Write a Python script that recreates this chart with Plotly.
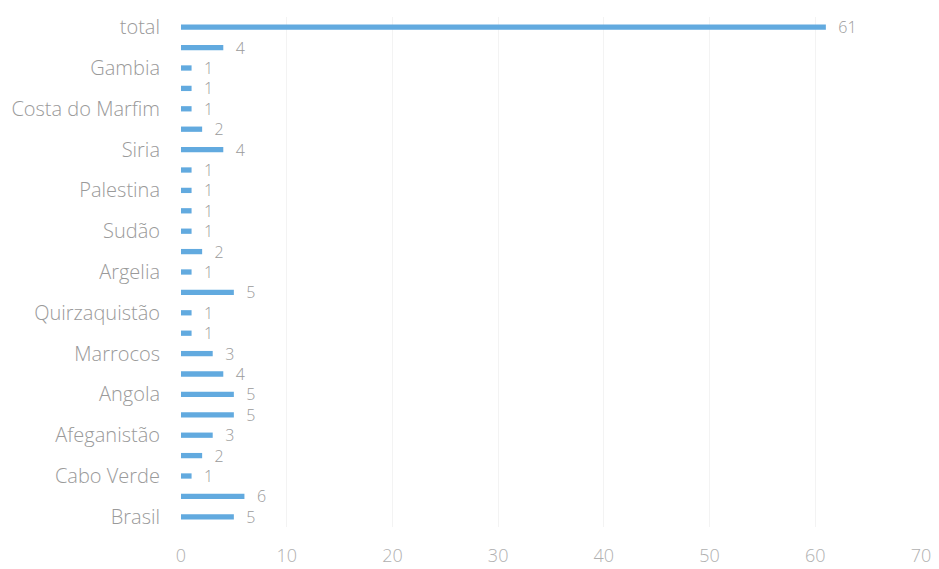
import plotly.graph_objects as go

# Rows listed top to bottom; rows without a visible label in the picture are ""
labels = ["total", "", "Gambia", "", "Costa do Marfim", "", "Siria", "", "Palestina", "",
          "Sudão", "", "Argelia", "", "Quirzaquistão", "", "Marrocos", "", "Angola", "",
          "Afeganistão", "", "Cabo Verde", "", "Brasil"]
values = [61, 4, 1, 1, 1, 2, 4, 1, 1, 1,
          1, 2, 1, 5, 1, 1, 3, 4, 5, 5,
          3, 2, 1, 6, 5]
x_ticks = [0, 10, 20, 30, 40, 50, 60, 70]

rows = list(range(len(values)))
tickvals = [r for r, l in zip(rows, labels) if l]
ticktext = [l for l in labels if l]

FONT = "Open Sans"

fig = go.Figure(go.Bar(
    x=values, y=rows, orientation="h",
    marker=dict(color="#62aadf", line=dict(width=0)),
    width=0.26,
    text=["\u00a0\u00a0\u00a0" + str(v) for v in values], textposition="outside",
    constraintext="none",
    textfont=dict(color="#9a9a9a", size=16, family=FONT, weight=300),
    cliponaxis=False,
))

fig.update_layout(
    width=939, height=569,
    margin=dict(l=173, r=26, t=9, b=50, autoexpand=False),
    paper_bgcolor="white", plot_bgcolor="white",
    font=dict(family=FONT, color="#9a9a9a", size=18, weight=300),
    showlegend=False,
)
fig.update_xaxes(range=[0, 70], tickvals=x_ticks, showgrid=True, gridcolor="#f3f3f3",
                 gridwidth=1, zeroline=False, showline=False, ticks="",
                 automargin=False, ticklabelstandoff=16,
                 tickfont=dict(size=18, color="#b0b0b0", family=FONT, weight=300))
fig.update_yaxes(range=[24.5, -0.5], tickvals=tickvals, ticktext=ticktext,
                 showgrid=False, zeroline=False, showline=False, ticks="",
                 automargin=False, ticklabelstandoff=20,
                 tickfont=dict(size=20, color="#9a9a9a", family=FONT, weight=300))

fig.write_html("out.html")
